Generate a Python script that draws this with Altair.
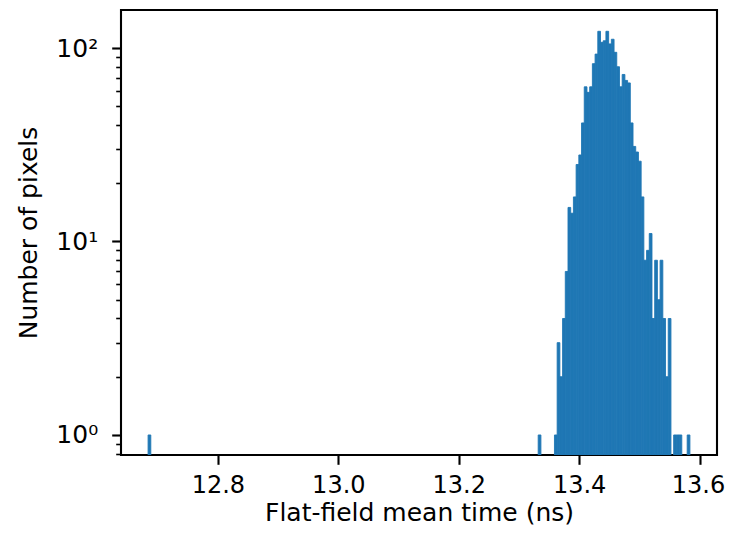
import altair as alt
import pandas as pd

# Histogram of flat-field mean time: 200 bins from 12.684 ns, width 0.0045 ns
bin_start = 12.684
bin_width = 0.0045
bin_index = [0, 144, 150, 151, 152, 153, 154, 155, 156, 157, 158, 159, 160,
             161, 162, 163, 164, 165, 166, 167, 168, 169, 170, 171, 172, 173,
             174, 175, 176, 177, 178, 179, 180, 181, 182, 183, 184, 185, 186,
             187, 188, 189, 190, 191, 192, 194, 195, 196, 199]
counts = [1, 1, 1, 3, 2, 4, 7, 15, 14, 17, 25, 28, 41,
          63, 59, 63, 83, 93, 122, 107, 109, 122, 105, 111, 95, 80,
          63, 73, 68, 66, 41, 31, 29, 26, 17, 8, 9, 11, 4,
          8, 5, 8, 4, 2, 4, 1, 1, 1, 1]

x_ticks = [12.8, 13.0, 13.2, 13.4, 13.6]
y_ticks = [0.8, 0.9, 1, 2, 3, 4, 5, 6, 7, 8, 9, 10, 20, 30, 40, 50, 60, 70, 80, 90, 100]
x_domain = [12.639, 13.629]
y_domain = [0.788, 157.2]

W, H = 596, 445

df = pd.DataFrame({
    "start": [bin_start + i * bin_width for i in bin_index],
    "end": [bin_start + (i + 1) * bin_width for i in bin_index],
    "count": counts,
})

FONT = "DejaVu Sans"
FS = 25
BLUE = "#1f77b4"

major = "datum.value == 1 || datum.value == 10 || datum.value == 100"

chart = alt.Chart(df).mark_rect(color=BLUE, stroke=BLUE, strokeWidth=0.9, clip=True).encode(
    x=alt.X("start:Q",
            scale=alt.Scale(domain=x_domain, nice=False, zero=False),
            axis=alt.Axis(values=x_ticks, format=".1f", title="Flat-field mean time (ns)",
                          grid=False, domain=False, tickSize=9.3, tickWidth=2.1,
                          tickColor="black", labelPadding=9, titlePadding=3,
                          labelOffset={"condition": {"test": "datum.value > 13.55", "value": -1.5}, "value": 0},
                          labelFontSize=24, titleFontSize=FS, labelFont=FONT, titleFont=FONT,
                          labelColor="black", titleColor="black", titleFontWeight="normal",
                          labelFlush=False)),
    x2="end:Q",
    y=alt.Y("count:Q",
            scale=alt.Scale(type="log", domain=y_domain, nice=False),
            axis=alt.Axis(values=y_ticks, title="Number of pixels",
                          labelExpr="datum.value == 1 ? '10⁰' : datum.value == 10 ? '10¹' : datum.value == 100 ? '10²' : ''",
                          grid=False, domain=False,
                          tickSize={"condition": {"test": major, "value": 9.3}, "value": 5.3},
                          tickWidth={"condition": {"test": major, "value": 2.1}, "value": 1.6},
                          tickColor="black", labelPadding=14, titlePadding=14,
                          labelFontSize=FS, titleFontSize=FS, labelFont=FONT, titleFont=FONT,
                          labelColor="black", titleColor="black", titleFontWeight="normal",
                          labelFlush=False)),
    y2=alt.value(H),
).properties(
    width=W, height=H,
    autosize=alt.AutoSizeParams(type="none"),
    padding={"left": 113, "top": 2, "right": 9, "bottom": 72},
    background="white",
).configure_view(
    stroke="black", strokeWidth=2.1
)

chart.save("out.html", embed_options={"renderer": "svg", "actions": False})
